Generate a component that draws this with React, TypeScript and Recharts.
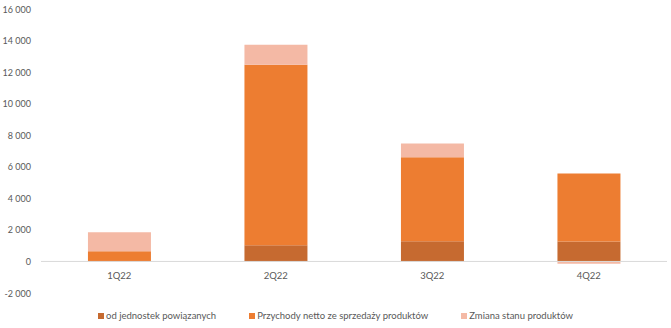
import { BarChart, Bar, XAxis, YAxis, ReferenceLine, Legend } from "recharts";

const quarters = ["1Q22", "2Q22", "3Q22", "4Q22"];
const relatedParties = [0, 1030, 1280, 1270];
const netRevenue = [640, 11440, 5320, 4300];
const stockChange = [1210, 1260, 870, -150];
const yTicks = [-2000, 0, 2000, 4000, 6000, 8000, 10000, 12000, 14000, 16000];
const seriesOrder = ["related", "revenue", "stock"];

const data = quarters.map((q, i) => ({
  q,
  related: relatedParties[i],
  revenue: netRevenue[i],
  stock: stockChange[i],
}));

const TEXT = "#595959";
const FONT = "Lato, 'Open Sans', sans-serif";

const fmt = (v: number) => String(v).replace(/\B(?=(\d{3})+(?!\d))/g, " ");

function XTick(props: any) {
  const { x, y, payload } = props;
  return (
    <text x={x} y={y - 22} textAnchor="middle" fill={TEXT} fontSize={9.5} fontFamily={FONT}>
      {payload.value}
    </text>
  );
}

function YTick(props: any) {
  const { x, y, payload } = props;
  return (
    <text x={x} y={y} dy={3.5} textAnchor="end" fill={TEXT} fontSize={9} fontFamily={FONT}>
      {fmt(payload.value)}
    </text>
  );
}

function LegendRow(props: any) {
  const items = [...(props.payload || [])].sort(
    (a: any, b: any) => seriesOrder.indexOf(a.dataKey) - seriesOrder.indexOf(b.dataKey)
  );
  return (
    <div
      style={{
        display: "flex",
        justifyContent: "center",
        gap: 33,
        fontSize: 9.5,
        fontFamily: FONT,
        color: TEXT,
        lineHeight: "14px",
      }}
    >
      {items.map((e: any) => (
        <span key={e.value} style={{ display: "flex", alignItems: "center" }}>
          <span style={{ width: 6, height: 6, background: e.color, marginRight: 2, display: "inline-block" }} />
          {e.value}
        </span>
      ))}
    </div>
  );
}

export default function App() {
  return (
    <div style={{ position: "absolute", left: 0, top: 0, background: "#fff" }}>
      <BarChart
        width={671}
        height={328}
        data={data}
        stackOffset="sign"
        barCategoryGap="30%"
        margin={{ top: 9, right: 4, left: 0, bottom: 5 }}
      >
        <XAxis dataKey="q" height={30} axisLine={false} tickLine={false} tick={<XTick />} />
        <YAxis
          width={41}
          domain={[-2000, 16000]}
          ticks={yTicks}
          axisLine={false}
          tickLine={false}
          tickMargin={4}
          tick={<YTick />}
        />
        <Legend
          verticalAlign="middle"
          content={<LegendRow />}
          wrapperStyle={{ top: 309, left: 0, width: 671 }}
        />
        <Bar dataKey="related" name="od jednostek powiązanych" stackId="a" fill="#C66A30" isAnimationActive={false} />
        <Bar dataKey="revenue" name="Przychody netto ze sprzedaży produktów" stackId="a" fill="#ED7D31" isAnimationActive={false} />
        <Bar dataKey="stock" name="Zmiana stanu produktów" stackId="a" fill="#F4B9A5" isAnimationActive={false} />
        <ReferenceLine y={0} stroke="#D9D9D9" />
      </BarChart>
    </div>
  );
}
